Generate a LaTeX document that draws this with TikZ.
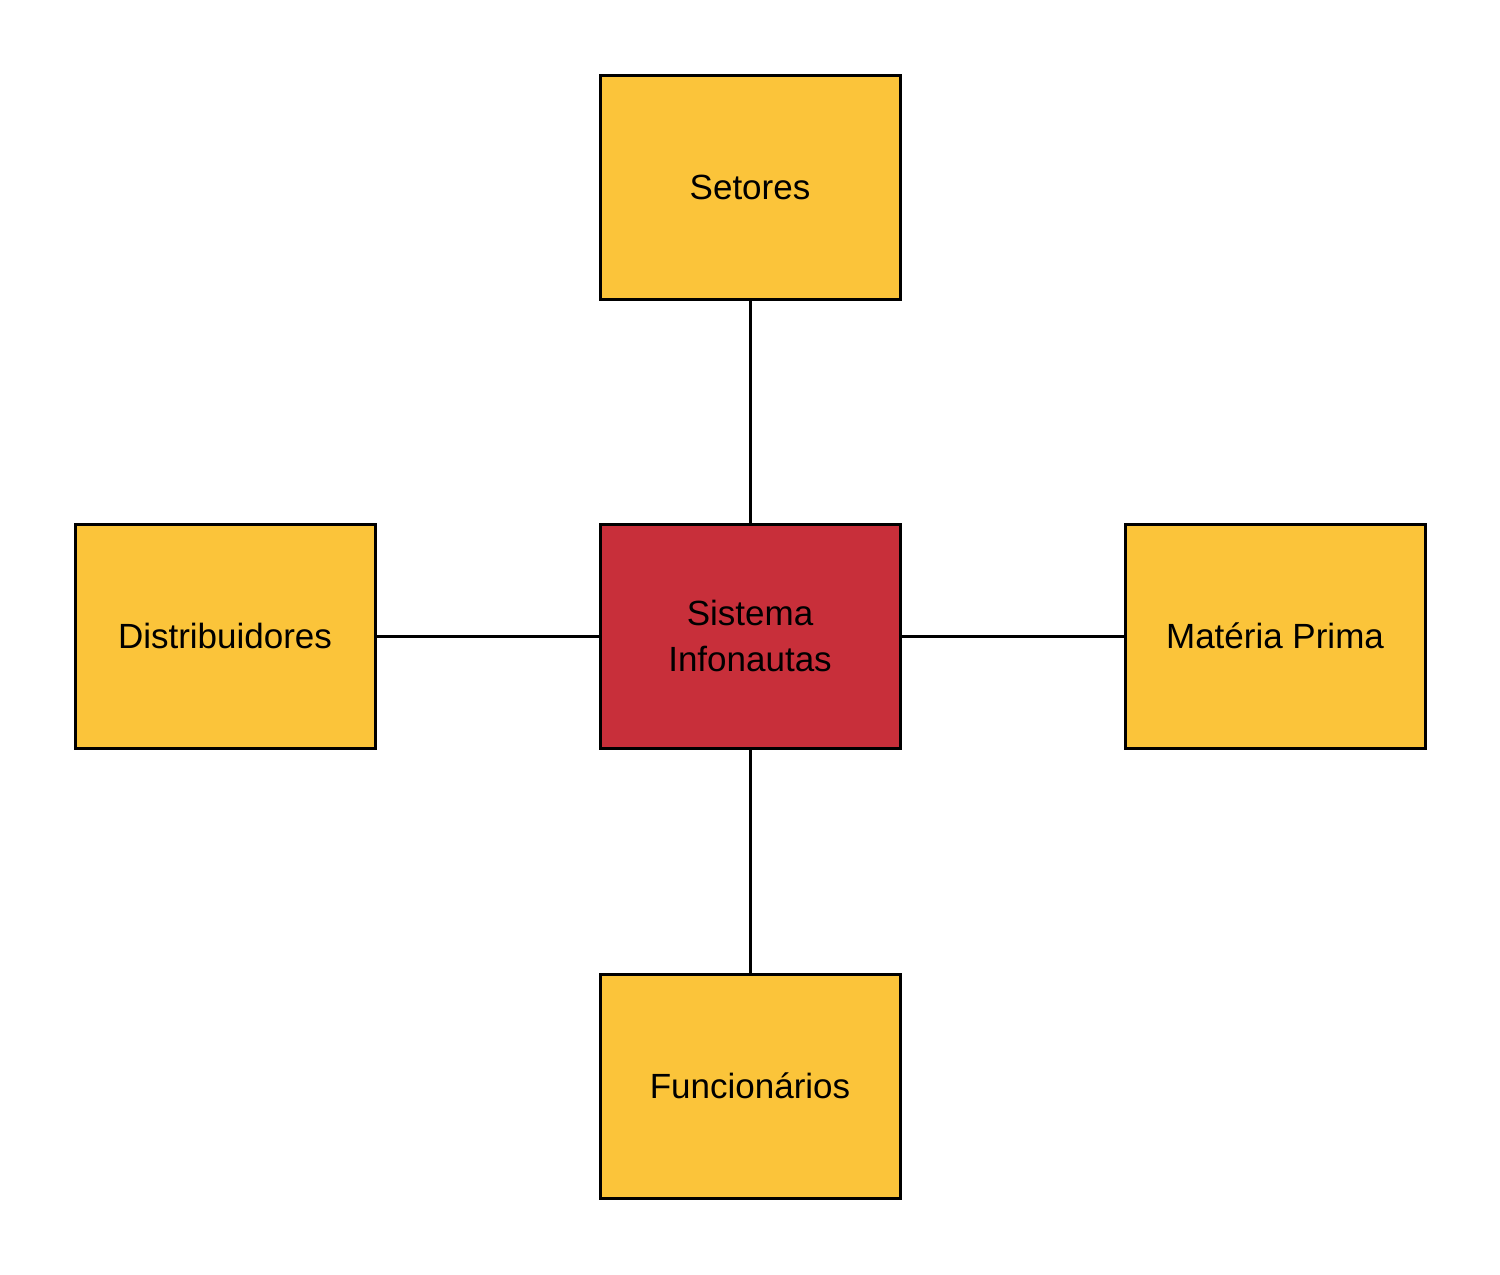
\documentclass[tikz,border=0pt]{standalone}
\usepackage{fontspec}
\setmainfont{Liberation Sans}
\definecolor{boxyellow}{HTML}{FBC43A}
\definecolor{boxred}{HTML}{C82F3A}
\begin{document}
\begin{tikzpicture}[x=1pt,y=-1pt,
  ent/.style={draw=black,line width=3pt,minimum width=300pt,minimum height=224pt,inner sep=0pt,font=\fontsize{35}{46}\selectfont,align=center,fill=boxyellow},
  core/.style={ent,fill=boxred},
  link/.style={line width=3pt}]
\useasboundingbox (0,0) rectangle (1500,1275);
\node[ent] (set) at (750,187) {Setores};
\node[core] (sis) at (750,636) {Sistema\\Infonautas};
\node[ent] (dis) at (225,636) {Distribuidores};
\node[ent] (mat) at (1275,636) {Matéria Prima};
\node[ent] (fun) at (750,1086) {Funcionários};
\draw[link] (set) -- (sis);
\draw[link] (dis) -- (sis);
\draw[link] (sis) -- (mat);
\draw[link] (sis) -- (fun);
\end{tikzpicture}
\end{document}
